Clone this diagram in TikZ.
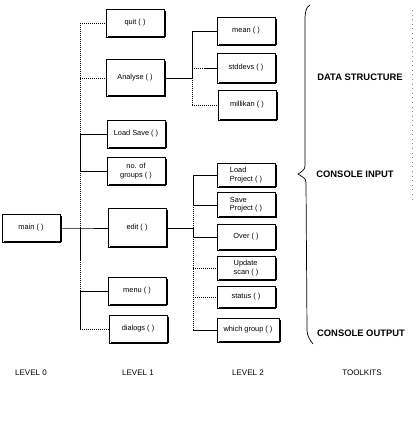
\documentclass[tikz,border=0pt]{standalone}
\usepackage{fontspec}
\setmainfont{Liberation Sans}
\begin{document}
\begin{tikzpicture}[x=1pt,y=-1pt,
  bx/.style={draw, line width=0.5pt, minimum width=58, minimum height=28, inner sep=1pt,
    font=\fontsize{7.4}{8.2}\selectfont, align=center},
  bxl/.style={bx, align=left},
  sol/.style={line width=0.6pt},
  dot/.style={line width=0.6pt, dash pattern=on 1pt off 1pt},
  shad/.style={line width=1.5pt},
  lbl/.style={font=\bfseries\fontsize{9.4}{11}\selectfont},
  lev/.style={font=\fontsize{8}{9.5}\selectfont}]
\useasboundingbox (0,0) rectangle (419,421);
% level 0
\node[bx] (main) at (31,228) {main ( )};
% level 1
\node[bx] (quit) at (135,23) {quit ( )};
\node[bx, minimum height=37] (analyse) at (135,78) {Analyse ( )};
\node[bx] (loadsave) at (136,134) {Load Save ( )};
\node[bx] (groups) at (136,171) {no. of\\groups ( )};
\node[bx, minimum height=39] (edit) at (137,228) {edit ( )};
\node[bx] (menu) at (137,291) {menu ( )};
\node[bx] (dialogs) at (138,329) {dialogs ( )};
% level 2
\node[bx] (mean) at (246,31) {mean ( )};
\node[bx, minimum height=30] (stddev) at (246,68) {stddevs ( )};
\node[bx, minimum height=30] (millikan) at (247,105) {millikan ( )};
\node[bxl, minimum height=24] (loadproj) at (246,175) {Load\\Project ( )};
\node[bxl, minimum height=25] (saveproj) at (246,205) {Save\\Project ( )};
\node[bx, minimum height=26] (over) at (246,237) {Over ( )};
\node[bxl, minimum height=24] (update) at (246,268) {Update\\scan ( )};
\node[bx, minimum height=22] (status) at (246,297) {status ( )};
\node[bx, minimum width=62, minimum height=24] (which) at (248,330) {which group ( )};
% shadows
\foreach \n in {main,quit,analyse,loadsave,groups,edit,menu,dialogs,mean,stddev,millikan,loadproj,saveproj,over,update,status,which}
  \draw[shad] ([xshift=1pt,yshift=-2pt]\n.north east) -- ([xshift=1pt,yshift=1pt]\n.south east) -- ([xshift=2pt,yshift=1pt]\n.south west);
% level 1 trunk
\coordinate (t1q) at (80,23);
\coordinate (t1a) at (80,78);
\coordinate (t1l) at (80,134);
\coordinate (t1g) at (80,171);
\coordinate (t1e) at (80,228);
\coordinate (t1x) at (80,260);
\coordinate (t1m) at (80,291);
\coordinate (t1d) at (80,329);
\draw[dot] (t1q) -- (t1l);
\draw[sol] (t1l) -- (t1g);
\draw[dot] (t1g) -- (t1e);
\draw[sol] (t1e) -- (t1x);
\draw[dot] (t1x) -- (t1m);
\draw[sol] (t1m) -- (t1d);
\draw[dot] (t1q) -- (quit.west);
\draw[dot] (t1a) -- (analyse.west);
\draw[sol] (t1l) -- (loadsave.west);
\draw[sol] (t1g) -- (groups.west);
\draw[sol] (main.east) -- (t1e) -- (edit.west);
\draw[sol] (t1m) -- (menu.west);
\draw[dot] (t1d) -- (dialogs.west);
% level 2 upper trunk
\coordinate (t2a) at (192,31);
\coordinate (t2b) at (192,68);
\coordinate (t2j) at (192,78);
\coordinate (t2c) at (192,105);
\draw[sol] (t2a) -- (t2j);
\draw[dot] (t2j) -- (t2c);
\draw[sol] (analyse.east) -- (t2j);
\draw[sol] (t2a) -- (mean.west);
\draw[dot] (t2b) -- ([xshift=-12pt]stddev.west);
\draw[sol] ([xshift=-12pt]stddev.west) -- (stddev.west);
\draw[dot] (t2c) -- (millikan.west);
% level 2 lower trunk
\coordinate (t3a) at (193,175);
\coordinate (t3b) at (193,205);
\coordinate (t3j) at (193,228);
\coordinate (t3c) at (193,237);
\coordinate (t3d) at (193,268);
\coordinate (t3e) at (193,297);
\coordinate (t3f) at (193,330);
\draw[sol] (t3a) -- (t3b);
\draw[dot] (t3b) -- (t3j);
\draw[sol] (t3j) -- (t3c);
\draw[dot] (t3c) -- (t3f);
\draw[sol] (edit.east) -- (t3j);
\draw[sol] (t3a) -- (loadproj.west);
\draw[sol] (t3b) -- (saveproj.west);
\draw[sol] (t3c) -- (over.west);
\draw[dot] (t3d) -- (update.west);
\draw[dot] (t3e) -- (status.west);
\draw[sol] (t3f) -- (which.west);
% brace
\draw[line width=0.7pt] (310,5) .. controls (306,7) and (305,12) .. (305,20)
  -- (305,166) .. controls (305,170) and (301,172) .. (298,174)
  .. controls (301,176) and (306,178) .. (306,182)
  -- (307,330) .. controls (307,336) and (310,340) .. (313,344);
\draw[gray, line width=0.4pt, dash pattern=on 0.6pt off 4pt] (412,10) -- (412,203);
% labels
\node[lbl] (ds) at (360,77) {DATA STRUCTURE};
\node[lbl] (ci) at (355,174) {CONSOLE INPUT};
\node[lbl] (co) at (361,333) {CONSOLE OUTPUT};
\node[lev] (l0) at (31,373) {LEVEL 0};
\node[lev] (l1) at (138,373) {LEVEL 1};
\node[lev] (l2) at (248,373) {LEVEL 2};
\node[lev] (tk) at (362,373) {TOOLKITS};
\end{tikzpicture}
\end{document}
